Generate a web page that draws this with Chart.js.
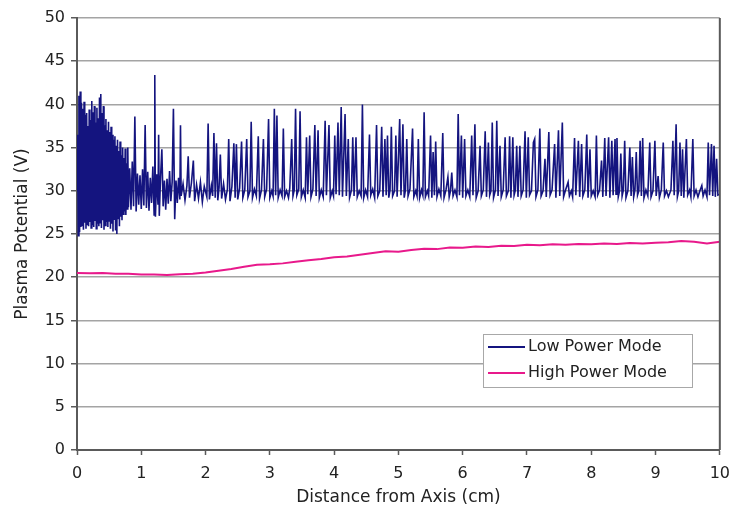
<!DOCTYPE html>
<html>
<head>
<meta charset="utf-8">
<script src="https://cdn.jsdelivr.net/npm/chart.js@4.4.1/dist/chart.umd.min.js"></script>
<style>
  html, body { margin: 0; padding: 0; background: #fff; }
  #wrap { width: 739px; height: 510px; }
</style>
</head>
<body>
<div id="wrap"><canvas id="plot" width="739" height="510"></canvas></div>
<script>
// Plasma potential vs. distance from axis

const seriesNames = ['Low Power Mode', 'High Power Mode'];

// Low power mode: noisy trace (cm, V)
const lowDist = [
  0.00, 0.01, 0.02, 0.03, 0.04, 0.05, 0.06, 0.07, 0.08, 0.09,
  0.10, 0.11, 0.12, 0.13, 0.14, 0.15, 0.16, 0.17, 0.18, 0.19,
  0.20, 0.21, 0.22, 0.23, 0.24, 0.25, 0.26, 0.27, 0.28, 0.29,
  0.30, 0.31, 0.32, 0.33, 0.34, 0.35, 0.36, 0.37, 0.38, 0.39,
  0.40, 0.41, 0.42, 0.43, 0.44, 0.45, 0.46, 0.47, 0.48, 0.49,
  0.50, 0.51, 0.52, 0.53, 0.54, 0.55, 0.56, 0.57, 0.58, 0.59,
  0.60, 0.61, 0.62, 0.63, 0.64, 0.65, 0.66, 0.67, 0.68, 0.69,
  0.70, 0.71, 0.72, 0.73, 0.74, 0.75, 0.76, 0.77, 0.78, 0.79,
  0.80, 0.82, 0.84, 0.86, 0.88, 0.90, 0.92, 0.94, 0.96, 0.98,
  1.00, 1.02, 1.04, 1.06, 1.08, 1.10, 1.12, 1.14, 1.16, 1.18,
  1.20, 1.21, 1.22, 1.24, 1.26, 1.27, 1.28, 1.30, 1.32, 1.34,
  1.36, 1.38, 1.40, 1.42, 1.44, 1.46, 1.48, 1.50, 1.52, 1.54,
  1.56, 1.58, 1.60, 1.61, 1.62, 1.65, 1.68, 1.71, 1.73, 1.75,
  1.78, 1.81, 1.83, 1.86, 1.89, 1.92, 1.95, 1.98, 2.02, 2.04,
  2.06, 2.09, 2.11, 2.13, 2.15, 2.17, 2.19, 2.21, 2.23, 2.25,
  2.28, 2.31, 2.34, 2.36, 2.38, 2.41, 2.44, 2.46, 2.48, 2.50,
  2.53, 2.56, 2.58, 2.61, 2.64, 2.66, 2.69, 2.71, 2.73, 2.76,
  2.79, 2.82, 2.84, 2.87, 2.90, 2.92, 2.95, 2.98, 3.00, 3.03,
  3.05, 3.07, 3.09, 3.11, 3.13, 3.16, 3.19, 3.21, 3.23, 3.26,
  3.29, 3.31, 3.34, 3.36, 3.38, 3.40, 3.42, 3.45, 3.47, 3.49,
  3.52, 3.55, 3.57, 3.59, 3.62, 3.64, 3.67, 3.70, 3.72, 3.75,
  3.77, 3.80, 3.83, 3.86, 3.88, 3.92, 3.94, 3.97, 3.99, 4.01,
  4.03, 4.06, 4.08, 4.11, 4.13, 4.17, 4.19, 4.22, 4.24, 4.27,
  4.29, 4.31, 4.34, 4.36, 4.39, 4.42, 4.44, 4.46, 4.49, 4.52,
  4.55, 4.57, 4.60, 4.63, 4.66, 4.68, 4.71, 4.74, 4.76, 4.79,
  4.81, 4.83, 4.85, 4.87, 4.89, 4.91, 4.94, 4.96, 4.98, 5.02,
  5.04, 5.07, 5.09, 5.11, 5.13, 5.15, 5.18, 5.22, 5.24, 5.27,
  5.29, 5.31, 5.33, 5.36, 5.38, 5.40, 5.42, 5.45, 5.47, 5.50,
  5.52, 5.54, 5.56, 5.58, 5.60, 5.63, 5.66, 5.69, 5.71, 5.74,
  5.77, 5.79, 5.81, 5.83, 5.85, 5.88, 5.91, 5.93, 5.95, 5.98,
  6.00, 6.03, 6.05, 6.08, 6.11, 6.14, 6.16, 6.19, 6.21, 6.24,
  6.27, 6.29, 6.32, 6.35, 6.37, 6.40, 6.42, 6.44, 6.46, 6.48,
  6.51, 6.53, 6.55, 6.58, 6.60, 6.63, 6.66, 6.68, 6.71, 6.73,
  6.75, 6.78, 6.80, 6.82, 6.84, 6.86, 6.89, 6.91, 6.94, 6.97,
  6.99, 7.02, 7.04, 7.07, 7.10, 7.12, 7.14, 7.17, 7.20, 7.22,
  7.25, 7.28, 7.30, 7.34, 7.36, 7.39, 7.43, 7.45, 7.49, 7.51,
  7.55, 7.57, 7.60, 7.64, 7.66, 7.69, 7.71, 7.74, 7.76, 7.80,
  7.82, 7.85, 7.87, 7.90, 7.93, 7.95, 7.98, 8.00, 8.03, 8.06,
  8.08, 8.10, 8.13, 8.16, 8.18, 8.21, 8.23, 8.27, 8.29, 8.32,
  8.34, 8.37, 8.385, 8.40, 8.42, 8.44, 8.46, 8.48, 8.50, 8.52,
  8.54, 8.57, 8.60, 8.62, 8.64, 8.66, 8.68, 8.70, 8.72, 8.74,
  8.76, 8.78, 8.80, 8.82, 8.85, 8.88, 8.91, 8.93, 8.96, 8.99,
  9.01, 9.04, 9.06, 9.09, 9.12, 9.14, 9.17, 9.20, 9.24, 9.27,
  9.29, 9.32, 9.34, 9.36, 9.38, 9.40, 9.42, 9.44, 9.48, 9.50,
  9.53, 9.55, 9.58, 9.60, 9.63, 9.66, 9.69, 9.72, 9.74, 9.77,
  9.80, 9.82, 9.84, 9.87, 9.89, 9.91, 9.93, 9.95, 9.97, 10.00
];
const lowVolt = [
  30.0, 36.5, 24.8, 41.0, 25.2, 41.5, 25.8, 40.2, 26.0, 39.5,
  25.5, 40.3, 26.3, 38.8, 25.6, 39.0, 26.1, 37.5, 25.9, 39.4,
  26.4, 38.2, 25.7, 40.4, 26.0, 39.1, 25.8, 39.8, 26.5, 37.9,
  25.6, 39.6, 26.2, 38.4, 25.9, 40.8, 26.3, 41.2, 25.7, 39.0,
  26.6, 39.8, 25.5, 37.6, 26.0, 38.3, 26.4, 37.0, 25.8, 38.0,
  26.5, 36.8, 25.6, 37.4, 26.2, 36.5, 25.3, 35.9, 26.7, 36.3,
  25.4, 35.2, 25.0, 35.9, 26.8, 34.6, 25.9, 35.7, 27.0, 34.1,
  26.6, 35.0, 27.3, 33.8, 27.6, 34.9, 27.2, 33.2, 27.9, 35.0,
  28.1, 32.6, 27.8, 33.4, 28.2, 38.6, 27.6, 32.0, 28.4, 31.8,
  27.9, 32.5, 28.3, 37.6, 28.0, 32.2, 27.7, 31.5, 28.6, 32.8,
  27.2, 43.4, 27.0, 31.9, 28.4, 36.5, 27.1, 31.6, 34.8, 28.2,
  31.2, 27.8, 31.4, 28.5, 32.3, 28.8, 31.0, 39.5, 26.7, 31.2,
  28.6, 31.5, 29.0, 37.6, 29.4, 30.8, 28.9, 30.6, 34.0, 29.2,
  30.9, 33.5, 28.8, 30.7, 29.1, 31.0, 28.7, 30.5, 29.3, 37.8,
  29.0, 30.6, 29.4, 36.7, 29.2, 35.5, 28.9, 30.4, 34.2, 29.1,
  30.8, 29.0, 30.2, 36.0, 28.8, 30.5, 35.5, 29.2, 35.4, 29.0,
  30.3, 35.7, 29.2, 30.1, 36.0, 29.3, 30.0, 38.0, 29.2, 30.2,
  29.4, 36.3, 29.1, 30.1, 36.0, 29.3, 30.2, 38.3, 29.2, 30.0,
  29.4, 39.5, 29.5, 38.7, 29.2, 30.1, 29.4, 37.2, 29.3, 30.0,
  29.2, 30.3, 36.0, 29.4, 30.1, 39.5, 29.5, 30.2, 39.2, 29.3,
  30.1, 29.2, 36.2, 29.6, 36.4, 29.3, 30.2, 37.6, 29.4, 37.0,
  29.2, 30.1, 29.3, 38.1, 29.5, 37.6, 29.2, 30.0, 29.4, 36.4,
  29.6, 37.9, 29.5, 39.7, 29.3, 38.9, 29.4, 36.0, 29.2, 30.1,
  36.2, 29.4, 36.2, 29.3, 30.0, 29.4, 40.0, 29.2, 30.1, 29.3,
  36.5, 29.5, 30.2, 29.2, 37.6, 29.4, 30.0, 37.4, 29.3, 36.0,
  29.5, 36.4, 29.2, 30.1, 37.4, 29.4, 30.0, 36.4, 29.3, 38.3,
  29.5, 37.7, 29.2, 30.1, 36.0, 29.4, 30.2, 37.2, 29.3, 30.0,
  29.4, 36.0, 29.2, 30.1, 29.5, 39.1, 29.3, 30.0, 29.4, 36.4,
  29.2, 34.5, 29.5, 35.7, 29.3, 30.2, 29.4, 36.7, 29.2, 30.1,
  31.6, 29.3, 30.0, 32.1, 29.4, 30.1, 29.3, 38.9, 29.5, 36.4,
  29.2, 36.0, 29.4, 30.1, 29.3, 36.4, 29.5, 37.7, 29.2, 30.0,
  35.2, 29.4, 30.1, 36.9, 29.3, 35.6, 29.5, 30.0, 37.9, 29.2,
  30.1, 38.1, 29.4, 35.2, 29.3, 30.1, 36.2, 29.4, 30.0, 36.3,
  29.2, 36.2, 29.5, 30.1, 35.2, 29.3, 35.2, 29.4, 30.1, 36.9,
  29.2, 36.2, 29.5, 30.0, 35.6, 36.0, 29.3, 30.1, 37.2, 29.4,
  30.0, 33.7, 29.3, 36.8, 29.5, 30.1, 35.4, 29.2, 37.0, 29.4,
  37.9, 29.3, 30.1, 31.0, 29.4, 30.0, 29.3, 36.1, 29.5, 35.8,
  29.3, 35.4, 29.4, 30.1, 36.5, 29.2, 34.8, 29.4, 30.0, 29.3,
  36.4, 29.5, 30.1, 33.5, 29.3, 36.1, 29.4, 36.2, 29.2, 35.8,
  29.5, 36.0, 29.6, 36.1, 29.3, 30.0, 34.3, 29.4, 30.1, 35.8,
  29.2, 30.0, 35.0, 29.4, 33.9, 29.3, 30.1, 34.5, 29.5, 30.0,
  35.8, 29.4, 36.1, 29.2, 30.1, 29.4, 35.6, 29.3, 30.0, 35.8,
  29.4, 31.7, 29.2, 30.1, 35.6, 29.4, 30.0, 29.3, 30.1, 35.8,
  29.5, 37.7, 29.3, 30.0, 35.6, 29.4, 34.8, 29.2, 36.0, 29.5,
  30.1, 29.3, 36.0, 29.4, 30.1, 29.3, 30.0, 30.6, 29.4, 30.1,
  29.3, 35.6, 29.5, 35.4, 29.4, 35.2, 29.3, 33.7, 29.5, 29.6
];

// High power mode: smooth rising trace (cm, V)
const highDist = [
  0.0, 0.2, 0.4, 0.6, 0.8, 1.0, 1.2, 1.4, 1.6, 1.8,
  2.0, 2.2, 2.4, 2.6, 2.8, 3.0, 3.2, 3.4, 3.6, 3.8,
  4.0, 4.2, 4.4, 4.6, 4.8, 5.0, 5.2, 5.4, 5.6, 5.8,
  6.0, 6.2, 6.4, 6.6, 6.8, 7.0, 7.2, 7.4, 7.6, 7.8,
  8.0, 8.2, 8.4, 8.6, 8.8, 9.0, 9.2, 9.4, 9.6, 9.8, 10.0
];
const highVolt = [
  20.5, 20.45, 20.5, 20.4, 20.4, 20.3, 20.3, 20.25, 20.35, 20.4,
  20.55, 20.75, 20.95, 21.2, 21.45, 21.5, 21.6, 21.8, 21.95, 22.1,
  22.3, 22.4, 22.6, 22.8, 23.0, 22.95, 23.15, 23.3, 23.25, 23.45,
  23.4, 23.55, 23.5, 23.65, 23.6, 23.75, 23.7, 23.8, 23.75, 23.85,
  23.8, 23.9, 23.85, 23.95, 23.9, 24.0, 24.05, 24.2, 24.1, 23.9, 24.1
];

const lowColor = '#14147f';
const highColor = '#e8198b';
const textColor = '#222222';
const axisColor = '#5a5a5a';
const font = 'DejaVu Sans';

// right-hand frame line + boxed legend inside the plot
const framePlugin = {
  id: 'frame',
  afterDatasetsDraw(chart) {
    const { ctx, chartArea } = chart;
    ctx.save();
    ctx.strokeStyle = axisColor;
    ctx.lineWidth = 2;
    ctx.beginPath();
    ctx.moveTo(chartArea.right, chartArea.top);
    ctx.lineTo(chartArea.right, chartArea.bottom);
    ctx.stroke();
    ctx.restore();
  },
  afterDraw(chart) {
    const ctx = chart.ctx;
    const bx = 483, by = 334, bw = 209, bh = 53;
    ctx.save();
    ctx.fillStyle = '#ffffff';
    ctx.fillRect(bx, by, bw, bh);
    ctx.strokeStyle = '#a8a8a8';
    ctx.lineWidth = 1;
    ctx.strokeRect(bx + 0.5, by + 0.5, bw, bh);
    ctx.font = '16px "' + font + '"';
    ctx.textBaseline = 'middle';
    chart.data.datasets.forEach((ds, i) => {
      const y = by + 13 + i * 26;
      ctx.strokeStyle = ds.borderColor;
      ctx.lineWidth = 2;
      ctx.beginPath();
      ctx.moveTo(bx + 5, y);
      ctx.lineTo(bx + 42, y);
      ctx.stroke();
      ctx.fillStyle = textColor;
      ctx.fillText(ds.label, bx + 45, y);
    });
    ctx.restore();
  }
};

const ctx = document.getElementById('plot').getContext('2d');
new Chart(ctx, {
  type: 'line',
  data: {
    datasets: [
      {
        label: seriesNames[0],
        data: lowDist.map((x, i) => ({ x: x, y: lowVolt[i] })),
        borderColor: lowColor,
        borderWidth: 1.6,
        pointRadius: 0,
        tension: 0
      },
      {
        label: seriesNames[1],
        data: highDist.map((x, i) => ({ x: x, y: highVolt[i] })),
        borderColor: highColor,
        borderWidth: 2,
        pointRadius: 0,
        tension: 0
      }
    ]
  },
  options: {
    responsive: false,
    animation: false,
    layout: { padding: { top: 18, right: 19, bottom: 0, left: 0 } },
    plugins: {
      legend: { display: false },
      tooltip: { enabled: false }
    },
    scales: {
      x: {
        type: 'linear',
        min: 0,
        max: 10,
        afterFit: (scale) => { scale.height = 60; },
        ticks: { stepSize: 1, color: textColor, font: { family: font, size: 16 }, padding: 9 },
        grid: { drawOnChartArea: false, drawTicks: true, tickLength: 5, tickColor: axisColor, tickWidth: 1.5 },
        border: { color: axisColor, width: 2 },
        title: {
          display: true,
          text: 'Distance from Axis (cm)',
          color: textColor,
          font: { family: font, size: 17 },
          padding: { top: 0, bottom: 2 }
        }
      },
      y: {
        min: 0,
        max: 50,
        afterFit: (scale) => { scale.width = 77; },
        ticks: { stepSize: 5, color: textColor, font: { family: font, size: 16 }, padding: 6 },
        grid: { color: '#a4a4a4', lineWidth: 1.5, tickLength: 6, tickColor: axisColor },
        border: { color: axisColor, width: 2 },
        title: {
          display: true,
          text: 'Plasma Potential (V)',
          color: textColor,
          font: { family: font, size: 17 },
          padding: { top: 12, bottom: 0 }
        }
      }
    }
  },
  plugins: [framePlugin]
});
</script>
</body>
</html>
